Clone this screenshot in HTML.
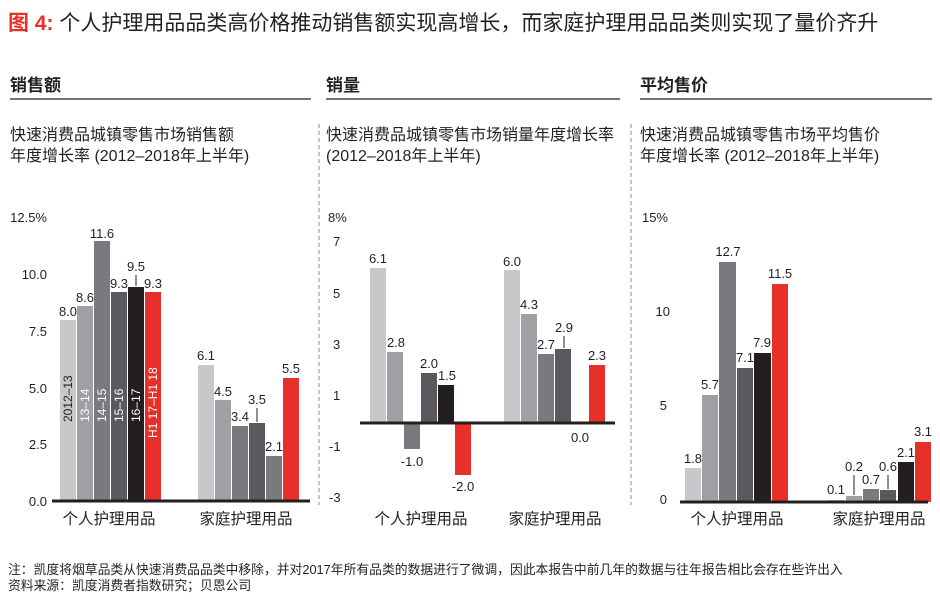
<!DOCTYPE html>
<html><head><meta charset="utf-8"><style>
body{margin:0;background:#fff;}
svg{display:block;font-family:"Liberation Sans","Noto Sans CJK SC",sans-serif;}
</style></head><body>
<svg width="940" height="604" viewBox="0 0 940 604" xmlns="http://www.w3.org/2000/svg">
<text x="8" y="30" font-size="21" fill="#231f20"><tspan fill="#e8302a" font-weight="bold">图 4:</tspan> 个人护理用品品类高价格推动销售额实现高增长，而家庭护理用品品类则实现了量价齐升</text>

<g font-size="17" font-weight="bold" fill="#231f20">
<text x="10" y="91">销售额</text><text x="326" y="91">销量</text><text x="640" y="91">平均售价</text></g>
<g stroke="#231f20" stroke-width="1.2">
<line x1="10" y1="99" x2="311" y2="99"/><line x1="326" y1="99" x2="620" y2="99"/><line x1="640" y1="99" x2="932" y2="99"/></g>
<g stroke="#888" stroke-dasharray="4,3"><line x1="319" y1="124" x2="319" y2="505"/><line x1="631" y1="124" x2="631" y2="505"/></g>
<g font-size="16" fill="#231f20">
<text x="10" y="140">快速消费品城镇零售市场销售额</text><text x="10" y="161">年度增长率 (2012–2018年上半年)</text>
<text x="326" y="140">快速消费品城镇零售市场销量年度增长率</text><text x="326" y="161">(2012–2018年上半年)</text>
<text x="640" y="140">快速消费品城镇零售市场平均售价</text><text x="640" y="161">年度增长率 (2012–2018年上半年)</text></g>

<!-- Chart 1 -->
<g font-size="13" fill="#231f20" text-anchor="end">
<text x="47" y="222">12.5%</text><text x="47" y="279">10.0</text><text x="47" y="336">7.5</text><text x="47" y="393">5.0</text><text x="47" y="449">2.5</text><text x="47" y="506">0.0</text></g>
<g>
<rect x="60" y="320" width="16" height="181" fill="#c8c8ca"/>
<rect x="77" y="306" width="16" height="195" fill="#a0a0a4"/>
<rect x="94" y="241" width="16" height="260" fill="#7a7a7e"/>
<rect x="111" y="292" width="16" height="209" fill="#5a5a5e"/>
<rect x="128" y="287" width="16" height="214" fill="#231f20"/>
<rect x="145" y="292" width="16" height="209" fill="#e8302a"/>
<rect x="198" y="365" width="16" height="136" fill="#c8c8ca"/>
<rect x="215" y="400" width="16" height="101" fill="#a0a0a4"/>
<rect x="232" y="426" width="16" height="75" fill="#7a7a7e"/>
<rect x="249" y="423" width="16" height="78" fill="#5a5a5e"/>
<rect x="266" y="456" width="16" height="45" fill="#7a7a7e"/>
<rect x="283" y="378" width="16" height="123" fill="#e8302a"/>
</g>
<line x1="52" y1="501" x2="310" y2="501" stroke="#231f20" stroke-width="3"/>
<g font-size="13" fill="#231f20" text-anchor="middle">
<text x="68" y="316">8.0</text><text x="85" y="302">8.6</text><text x="102" y="238">11.6</text><text x="119" y="288">9.3</text><text x="136" y="271">9.5</text><text x="153" y="288">9.3</text>
<text x="206" y="360">6.1</text><text x="223" y="396">4.5</text><text x="240" y="421">3.4</text><text x="257" y="404">3.5</text><text x="274" y="451">2.1</text><text x="291" y="373">5.5</text></g>
<g stroke="#231f20"><line x1="136" y1="275" x2="136" y2="286"/><line x1="257" y1="408" x2="257" y2="422"/></g>
<g font-size="12" transform="rotate(-90)">
<text x="-422" y="72" fill="#231f20">2012–13</text><text x="-422" y="89" fill="#fff">13–14</text><text x="-422" y="106" fill="#fff">14–15</text><text x="-422" y="123" fill="#fff">15–16</text><text x="-422" y="140" fill="#fff">16–17</text><text x="-438" y="157" fill="#fff">H1 17–H1 18</text></g>
<g font-size="15.5" fill="#231f20" text-anchor="middle"><text x="109" y="524">个人护理用品</text><text x="246" y="524">家庭护理用品</text></g>

<!-- Chart 2 -->
<g font-size="13" fill="#231f20">
<text x="328" y="222">8%</text><text x="333" y="246">7</text><text x="333" y="298">5</text><text x="333" y="349">3</text><text x="333" y="400">1</text><text x="329" y="451">-1</text><text x="329" y="502">-3</text></g>
<g>
<rect x="370" y="268" width="16" height="155" fill="#c8c8ca"/>
<rect x="387" y="352" width="16" height="71" fill="#a0a0a4"/>
<rect x="404" y="423" width="16" height="26" fill="#7a7a7e"/>
<rect x="421" y="373" width="16" height="50" fill="#5a5a5e"/>
<rect x="438" y="385" width="16" height="38" fill="#231f20"/>
<rect x="455" y="423" width="16" height="52" fill="#e8302a"/>
<rect x="504" y="270" width="16" height="153" fill="#c8c8ca"/>
<rect x="521" y="314" width="16" height="109" fill="#a0a0a4"/>
<rect x="538" y="354" width="16" height="69" fill="#7a7a7e"/>
<rect x="555" y="349" width="16" height="74" fill="#5a5a5e"/>
<rect x="589" y="365" width="16" height="58" fill="#e8302a"/>
</g>
<line x1="360" y1="423" x2="615" y2="423" stroke="#231f20" stroke-width="3"/>
<g font-size="13" fill="#231f20" text-anchor="middle">
<text x="378" y="263">6.1</text><text x="396" y="347">2.8</text><text x="412" y="466">-1.0</text><text x="429" y="368">2.0</text><text x="447" y="380">1.5</text><text x="463" y="491">-2.0</text>
<text x="512" y="266">6.0</text><text x="529" y="309">4.3</text><text x="546" y="349">2.7</text><text x="564" y="332">2.9</text><text x="580" y="442">0.0</text><text x="597" y="360">2.3</text></g>
<line x1="564" y1="336" x2="564" y2="348" stroke="#231f20"/>
<g font-size="15.5" fill="#231f20" text-anchor="middle"><text x="421" y="524">个人护理用品</text><text x="555" y="524">家庭护理用品</text></g>

<!-- Chart 3 -->
<g font-size="13" fill="#231f20" text-anchor="end">
<text x="668" y="222">15%</text><text x="670" y="316">10</text><text x="667" y="410">5</text><text x="667" y="504">0</text></g>
<g>
<rect x="685" y="468" width="16" height="34" fill="#c8c8ca"/>
<rect x="702" y="395" width="16" height="107" fill="#a0a0a4"/>
<rect x="719" y="262" width="17" height="240" fill="#7a7a7e"/>
<rect x="737" y="368" width="16" height="134" fill="#5a5a5e"/>
<rect x="754" y="353" width="17" height="149" fill="#231f20"/>
<rect x="772" y="284" width="16" height="218" fill="#e8302a"/>
<rect x="828" y="500" width="16" height="2" fill="#c8c8ca"/>
<rect x="846" y="496" width="16" height="6" fill="#a0a0a4"/>
<rect x="863" y="489" width="16" height="13" fill="#7a7a7e"/>
<rect x="880" y="490" width="16" height="12" fill="#5a5a5e"/>
<rect x="898" y="462" width="16" height="40" fill="#231f20"/>
<rect x="915" y="442" width="16" height="60" fill="#e8302a"/>
</g>
<line x1="680" y1="502" x2="928" y2="502" stroke="#231f20" stroke-width="3"/>
<g font-size="13" fill="#231f20" text-anchor="middle">
<text x="693" y="463">1.8</text><text x="710" y="389">5.7</text><text x="728" y="256">12.7</text><text x="745" y="362">7.1</text><text x="762" y="347">7.9</text><text x="780" y="278">11.5</text>
<text x="836" y="494">0.1</text><text x="854" y="471">0.2</text><text x="871" y="484">0.7</text><text x="888" y="471">0.6</text><text x="906" y="457">2.1</text><text x="923" y="436">3.1</text></g>
<g stroke="#231f20"><line x1="854" y1="475" x2="854" y2="495"/><line x1="888" y1="475" x2="888" y2="489"/></g>
<g font-size="15.5" fill="#231f20" text-anchor="middle"><text x="737" y="524">个人护理用品</text><text x="879" y="524">家庭护理用品</text></g>

<g font-size="12.8" fill="#231f20">
<text x="8" y="574">注：凯度将烟草品类从快速消费品品类中移除，并对2017年所有品类的数据进行了微调，因此本报告中前几年的数据与往年报告相比会存在些许出入</text>
<text x="8" y="590">资料来源：凯度消费者指数研究；贝恩公司</text></g>
</svg>
</body></html>
